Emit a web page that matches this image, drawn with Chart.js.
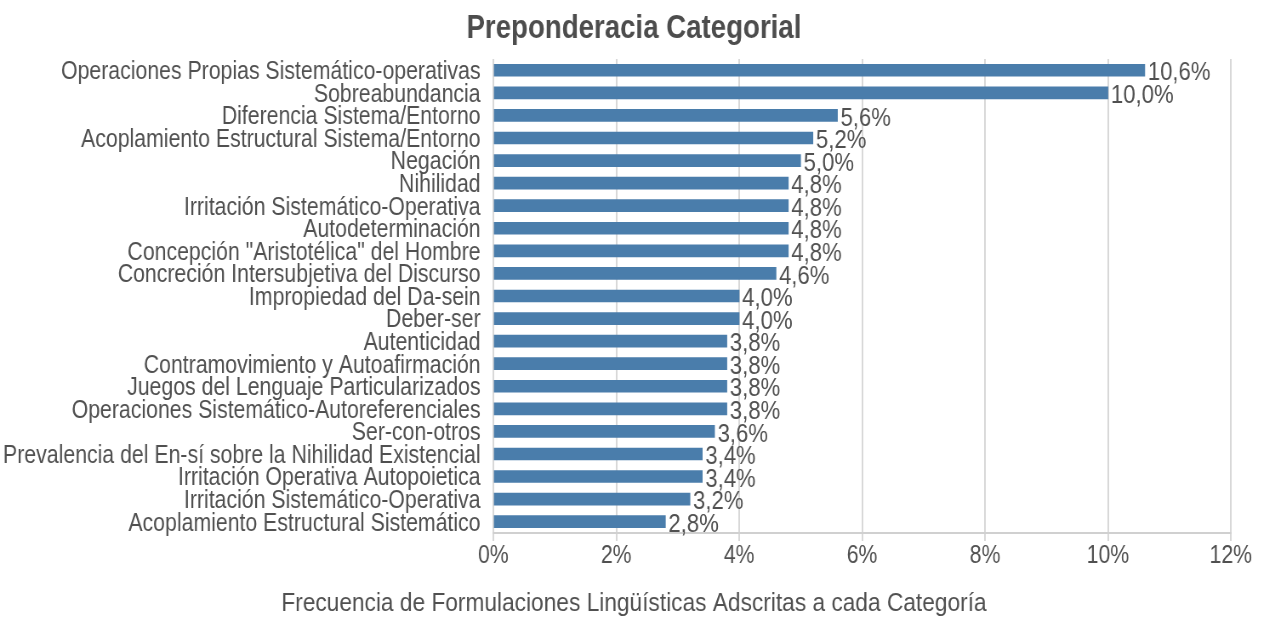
<!DOCTYPE html>
<html lang="es">
<head>
<meta charset="utf-8">
<title>Preponderacia Categorial</title>
<script src="https://cdn.jsdelivr.net/npm/chart.js@4.4.1/dist/chart.umd.min.js"></script>
<style>
    html, body { margin: 0; padding: 0; background: #ffffff; overflow: hidden; }
    #wrap { height: 620px; transform-origin: 0 0; }
</style>
</head>
<body>
<div id="wrap"><canvas id="chart"></canvas></div>
<script>
// -----------------------------------------------------------------------
// Data
// -----------------------------------------------------------------------
const categories = [
    'Operaciones Propias Sistemático-operativas',
    'Sobreabundancia',
    'Diferencia Sistema/Entorno',
    'Acoplamiento Estructural Sistema/Entorno',
    'Negación',
    'Nihilidad',
    'Irritación Sistemático-Operativa',
    'Autodeterminación',
    'Concepción "Aristotélica" del Hombre',
    'Concreción Intersubjetiva del Discurso',
    'Impropiedad del Da-sein',
    'Deber-ser',
    'Autenticidad',
    'Contramovimiento y Autoafirmación',
    'Juegos del Lenguaje Particularizados',
    'Operaciones Sistemático-Autoreferenciales',
    'Ser-con-otros',
    'Prevalencia del En-sí sobre la Nihilidad Existencial',
    'Irritación Operativa Autopoietica',
    'Irritación Sistemático-Operativa',
    'Acoplamiento Estructural Sistemático'
];

const frequencies = [
    10.6, 10.0, 5.6, 5.2, 5.0, 4.8, 4.8, 4.8, 4.8, 4.6, 4.0,
    4.0, 3.8, 3.8, 3.8, 3.8, 3.6, 3.4, 3.4, 3.2, 2.8
];

const xTicks = [0, 2, 4, 6, 8, 10, 12];

const chartTitle = 'Preponderacia Categorial';
const axisTitle  = 'Frecuencia de Formulaciones Lingüísticas Adscritas a cada Categoría';

(function () {
    'use strict';

    // The reference text is horizontally condensed, so the whole canvas
    // is drawn wider and squeezed back to 1267px.
    const SQUEEZE = 0.85;
    const SIDE = 37; // blank margin right of the plot (screen px)
    const FONT = '"Liberation Sans", Arial, Helvetica, sans-serif';
    const TEXT = '#505050';

    const wrap = document.getElementById('wrap');
    wrap.style.width = (1267 / SQUEEZE) + 'px';
    wrap.style.transform = 'scaleX(' + SQUEEZE + ')';

    function pct(v) {
        return v.toFixed(1).replace('.', ',') + '%';
    }

    // value labels at the end of each bar
    const barLabels = {
        id: 'barLabels',
        afterDatasetsDraw: function (chart) {
            const ctx = chart.ctx;
            const meta = chart.getDatasetMeta(0);
            ctx.save();
            ctx.font = '26px ' + FONT;
            ctx.fillStyle = TEXT;
            ctx.textAlign = 'left';
            ctx.textBaseline = 'middle';
            meta.data.forEach(function (bar, i) {
                ctx.fillText(pct(frequencies[i]), bar.x + 3 / SQUEEZE, bar.y + 3);
            });
            ctx.restore();
        }
    };

    new Chart(document.getElementById('chart'), {
        type: 'bar',
        data: {
            labels: categories,
            datasets: [{
                data: frequencies,
                backgroundColor: '#4a7dab',
                borderWidth: 0,
                barThickness: 12
            }]
        },
        options: {
            indexAxis: 'y',
            responsive: true,
            maintainAspectRatio: false,
            animation: false,
            layout: { padding: 0 },
            plugins: {
                legend: { display: false },
                tooltip: { enabled: false },
                title: {
                    display: true,
                    text: chartTitle,
                    color: '#4d4d4d',
                    font: { family: FONT, size: 32.5, weight: 'bold' },
                    padding: { top: 10, bottom: 10 }
                },
                subtitle: {
                    display: true,
                    position: 'bottom',
                    text: axisTitle,
                    color: TEXT,
                    font: { family: FONT, size: 26.7 },
                    padding: { top: 17, bottom: 0 }
                }
            },
            scales: {
                x: {
                    min: 0,
                    max: 12,
                    afterBuildTicks: function (axis) {
                        axis.ticks = xTicks.map(function (v) { return { value: v }; });
                    },
                    ticks: {
                        color: TEXT,
                        padding: 0,
                        font: { family: FONT, size: 25 },
                        callback: function (v) { return v + '%'; }
                    },
                    grid: { color: '#d8d8d8', lineWidth: 2, tickLength: 8 },
                    border: { color: '#d0d0d0', width: 2 }
                },
                y: {
                    afterFit: function (axis) { axis.width = 493 / SQUEEZE; },
                    ticks: {
                        autoSkip: false,
                        color: TEXT,
                        padding: 15,
                        labelOffset: 2,
                        font: { family: FONT, size: 25 }
                    },
                    grid: { display: false, drawTicks: false },
                    border: { display: false }
                },
                // empty right-hand axis: reserves the margin right of the plot
                yRight: {
                    type: 'category',
                    position: 'right',
                    afterFit: function (axis) { axis.width = SIDE / SQUEEZE; },
                    ticks: { display: false },
                    grid: { display: false, drawTicks: false },
                    border: { display: false }
                }
            }
        },
        plugins: [barLabels]
    });
})();
</script>
</body>
</html>
